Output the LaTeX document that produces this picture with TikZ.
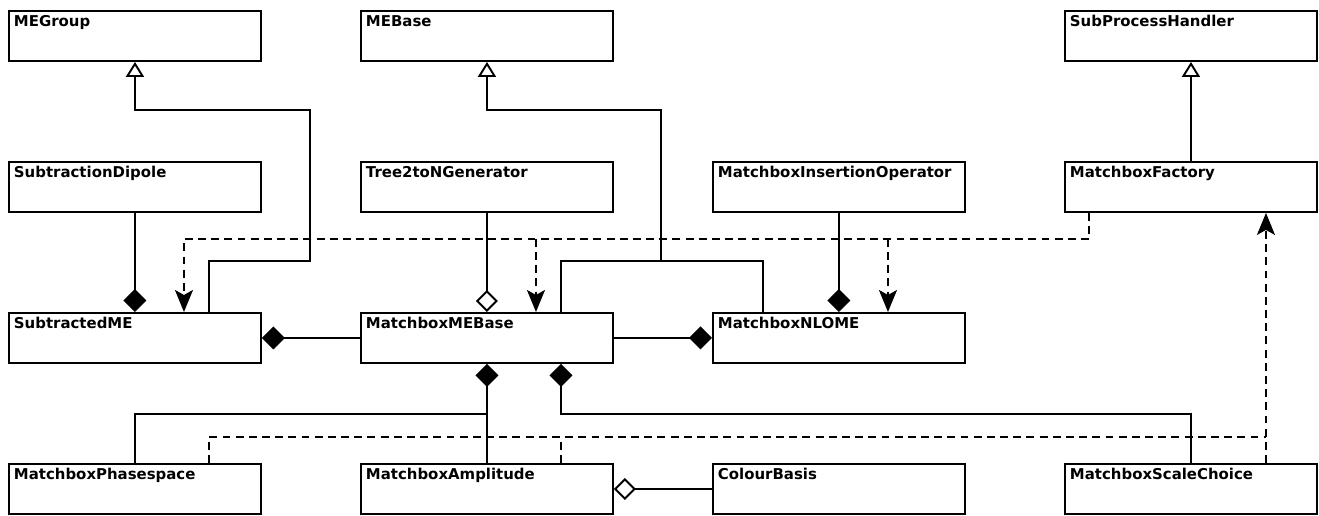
\documentclass[tikz,border=0pt]{standalone}
\usepackage{fontspec}
\setmainfont{DejaVu Sans}
\usetikzlibrary{arrows.meta}
\begin{document}
\begin{tikzpicture}[
    cls/.style={draw, line width=1.1pt, anchor=north west, minimum width=5.04cm, minimum height=1cm,
      text width=4.84cm, inner sep=0.1cm, text height=0.22cm, text depth=0.58cm, align=left,
      font=\fontsize{8.5}{10}\selectfont\bfseries},
    link/.style={line width=1.1pt},
    inherit/.style={link, -{Triangle[open, length=0.3cm, width=0.36cm]}},
    compose/.style={link, -{Diamond[length=0.46cm, width=0.46cm]}},
    aggr/.style={link, -{Diamond[open, length=0.44cm, width=0.44cm]}},
    dep/.style={link, dash pattern=on 4.5pt off 3pt},
    deparrow/.style={dep, -{Stealth[length=0.44cm, width=0.36cm, inset=0.1cm]}}
  ]
  \useasboundingbox (0,0) rectangle (26.38,-10.3);
  \node[cls] (megroup) at (0.16,-0.2) {MEGroup};
  \node[cls] (mebase) at (7.2,-0.2) {MEBase};
  \node[cls] (sph) at (21.28,-0.2) {SubProcessHandler};
  \node[cls] (subdip) at (0.16,-3.22) {SubtractionDipole};
  \node[cls] (tree) at (7.2,-3.22) {Tree2toNGenerator};
  \node[cls] (insop) at (14.24,-3.22) {MatchboxInsertionOperator};
  \node[cls] (factory) at (21.28,-3.22) {MatchboxFactory};
  \node[cls] (sub) at (0.16,-6.24) {SubtractedME};
  \node[cls] (mmebase) at (7.2,-6.24) {MatchboxMEBase};
  \node[cls] (nlome) at (14.24,-6.24) {MatchboxNLOME};
  \node[cls] (phase) at (0.16,-9.26) {MatchboxPhasespace};
  \node[cls] (amp) at (7.2,-9.26) {MatchboxAmplitude};
  \node[cls] (colour) at (14.24,-9.26) {ColourBasis};
  \node[cls] (scale) at (21.28,-9.26) {MatchboxScaleChoice};

  \coordinate (jme) at (13.22,-5.22);
  \coordinate (jfac) at ([xshift=-2.04cm, yshift=-0.52cm]factory.south);
  \coordinate (tmebase) at ([xshift=0.98cm]mmebase.north);
  \coordinate (tnlome) at ([xshift=0.98cm]nlome.north);
  \coordinate (tsub) at ([xshift=0.98cm]sub.north);
  \coordinate (tscale) at ([xshift=1.5cm]scale.north);
  \coordinate (tamp) at ([xshift=1.48cm]amp.north);
  \coordinate (jdep) at ([yshift=0.52cm]tscale);

  \draw[inherit] ([xshift=1.48cm]sub.north) -- ++(0,1.02) -| ++(2.02,3.02) -| (megroup.south);
  \draw[inherit] ([xshift=1.48cm]mmebase.north) |- (jme) |- ++(-3.5,3.02) -| (mebase.south);
  \draw[link] ([xshift=-1.52cm]nlome.north) |- (jme);
  \draw[inherit] (factory.north) -- (sph.south);

  \draw[compose] (subdip.south) -- (sub.north);
  \draw[aggr] (tree.south) -- (mmebase.north);
  \draw[compose] (insop.south) -- (nlome.north);
  \draw[compose] (mmebase.west) -- (sub.east);
  \draw[compose] (mmebase.east) -- (nlome.west);
  \draw[link] (phase.north) |- ([yshift=-1cm]mmebase.south);
  \draw[compose] (amp.north) -- (mmebase.south);
  \draw[compose] (scale.north) |- ([xshift=1.48cm, yshift=-1cm]mmebase.south) -- ([xshift=1.48cm]mmebase.south);
  \draw[aggr] (colour.west) -- (amp.east);

  \draw[dep] ([xshift=-2.04cm]factory.south) -- (jfac);
  \draw[deparrow] (jfac) -| (tsub);
  \draw[deparrow] (tmebase |- jfac) -- (tmebase);
  \draw[deparrow] (tnlome |- jfac) -- (tnlome);
  \draw[deparrow] (tscale) -- ([xshift=1.5cm]factory.south);
  \draw[dep] ([xshift=1.48cm]phase.north) |- (jdep);
  \draw[dep] (tamp) -- (tamp |- jdep);
\end{tikzpicture}
\end{document}
